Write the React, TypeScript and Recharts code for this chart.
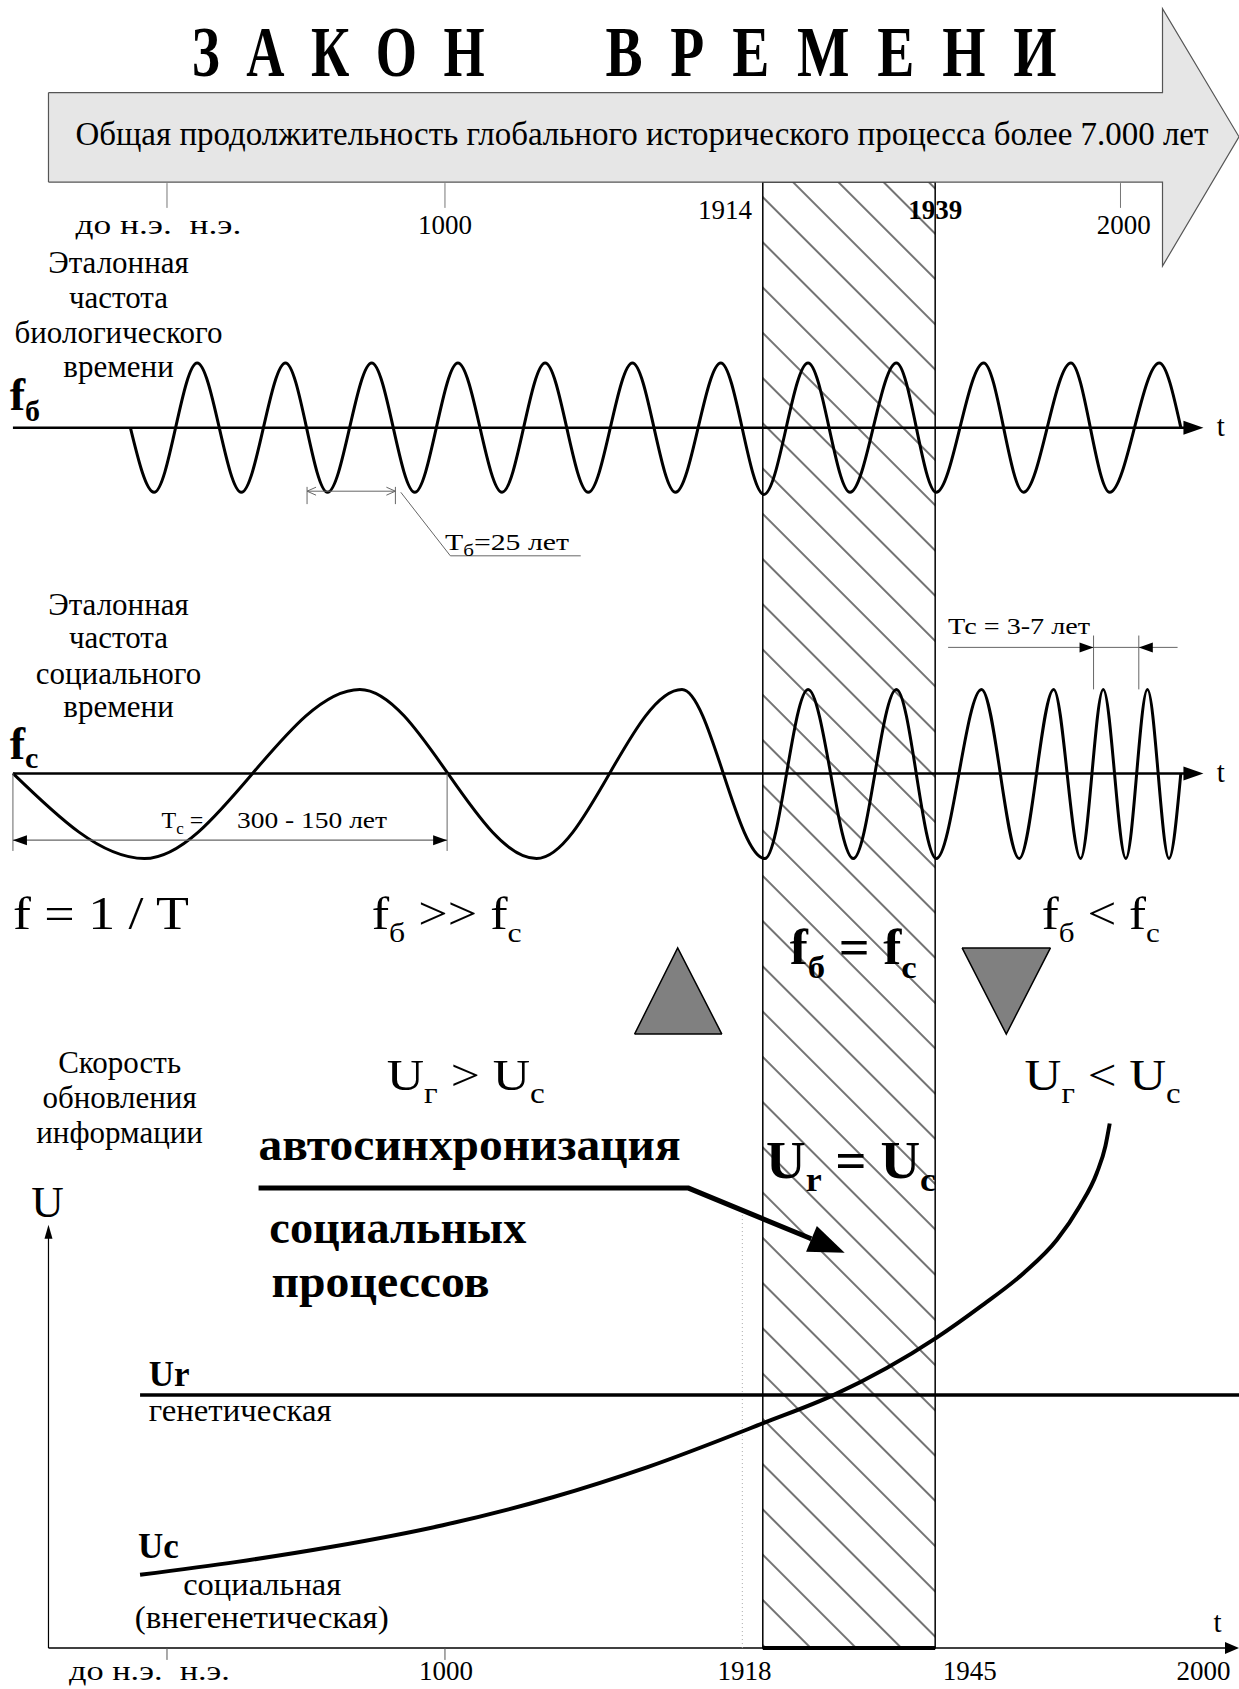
import React from "react";
import {
  ComposedChart, Line, Area, XAxis, YAxis,
  ReferenceLine, ReferenceArea, ReferenceDot,
} from "recharts";

// Schematic sheet: x = position along the time scale, y = position down the sheet (0 at top)
const W = 1239;
const H = 1689;
const X_MAX = 1150;
const Y_MAX = 1568;

const SERIF = '"Liberation Serif", "Times New Roman", serif';

// big "time" arrow as a range area [top, bottom]
const arrowOutline = [
  { x: 45, v: [86, 169] },
  { x: 1079, v: [86, 169] },
  { x: 1079, v: [8, 247] },
  { x: 1150, v: [127, 127] },
];

// reference frequency of biological time (peaks / troughs)
const bioWave = [
  { x: 121, y: 397 }, { x: 143, y: 457 }, { x: 183, y: 337 }, { x: 224, y: 457 },
  { x: 265, y: 337 }, { x: 304, y: 457 }, { x: 345, y: 337 }, { x: 385, y: 457 },
  { x: 425, y: 337 }, { x: 466, y: 457 }, { x: 506, y: 337 }, { x: 546, y: 457 },
  { x: 587, y: 337 }, { x: 627, y: 457 }, { x: 669, y: 337 }, { x: 709, y: 459 },
  { x: 750, y: 337 }, { x: 789, y: 457 }, { x: 832, y: 337 }, { x: 869, y: 457 },
  { x: 913, y: 337 }, { x: 950, y: 457 }, { x: 994, y: 337 }, { x: 1030, y: 457 },
  { x: 1076, y: 337 }, { x: 1096, y: 397 },
];

// reference frequency of social time
const socialWave = [
  { x: 12, y: 718 }, { x: 134, y: 797 }, { x: 334, y: 640 }, { x: 498, y: 797 },
  { x: 633, y: 640 }, { x: 710, y: 797 }, { x: 750, y: 640 }, { x: 792, y: 797 },
  { x: 832, y: 640 }, { x: 869, y: 797 }, { x: 911, y: 640 }, { x: 946, y: 797 },
  { x: 978, y: 640 }, { x: 1003, y: 797 }, { x: 1024, y: 640 }, { x: 1045, y: 797 },
  { x: 1065, y: 640 }, { x: 1085, y: 797 }, { x: 1096, y: 718 },
];

// rate of information renewal
const geneticRate = [{ x: 130, y: 1295 }, { x: 1150, y: 1295 }];
const socialRate = [
  { x: 130, y: 1462 }, { x: 220, y: 1450 }, { x: 308, y: 1436 }, { x: 411, y: 1416 },
  { x: 513, y: 1390 }, { x: 601, y: 1362 }, { x: 709, y: 1321 }, { x: 774, y: 1295 },
  { x: 869, y: 1242 }, { x: 910, y: 1213 }, { x: 950, y: 1182 }, { x: 981, y: 1151 },
  { x: 1002, y: 1120 }, { x: 1018, y: 1089 }, { x: 1026, y: 1064 }, { x: 1030, y: 1043 },
];

const pointer = [{ x: 240, y: 1103 }, { x: 639, y: 1103 }, { x: 753, y: 1150 }];

const upMarker = [{ x: 589, v: [960, 960] }, { x: 629, v: [880, 960] }, { x: 670, v: [960, 960] }];
const downMarker = [{ x: 893, v: [880, 880] }, { x: 934, v: [880, 960] }, { x: 975, v: [880, 880] }];

const topTickX = [155, 413, 1040];
const topYears = [
  { x: 413, label: "1000", y: 217 },
  { x: 673, label: "1914", y: 203 },
  { x: 868, label: "1939", y: 203 },
  { x: 1043, label: "2000", y: 217 },
];
const bottomTickX = [155, 413];
const bottomYears = [
  { x: 414, label: "1000" },
  { x: 691, label: "1918" },
  { x: 900, label: "1945" },
  { x: 1117, label: "2000" },
];

const bioCaption = ["Эталонная", "частота", "биологического", "времени"];
const socialCaption = ["Эталонная", "частота", "социального", "времени"];
const rateCaption = ["Скорость", "обновления", "информации"];

type NoteOpts = {
  size: number;
  anchor?: "start" | "middle" | "end";
  bold?: boolean;
  len?: number;
  adjust?: "spacing" | "spacingAndGlyphs";
};

function note(id: string, x: number, y: number, body: React.ReactNode, o: NoteOpts) {
  return (
    <ReferenceDot
      key={id}
      x={x}
      y={y}
      r={0}
      ifOverflow="visible"
      shape={(p: any) => (
        <text
          x={p.cx}
          y={p.cy}
          fontFamily={SERIF}
          fontSize={o.size}
          fontWeight={o.bold ? 700 : 400}
          textAnchor={o.anchor || "start"}
          fill="#000"
          textLength={o.len}
          lengthAdjust={o.len ? o.adjust || "spacingAndGlyphs" : undefined}
        >
          {body}
        </text>
      )}
    />
  );
}

const sub = (s: string, size: number, d: number) => <tspan dy={d} fontSize={size}>{s}</tspan>;
const back = (s: string, d: number) => <tspan dy={-d}>{s}</tspan>;

// filled arrow head, tip at (x, y), angle 0 = pointing right
function head(id: string, x: number, y: number, angle: number, len = 16, half = 6) {
  return (
    <ReferenceDot
      key={id}
      x={x}
      y={y}
      r={0}
      ifOverflow="visible"
      shape={(p: any) => (
        <path
          d={`M${p.cx},${p.cy} l${-len},${-half} l0,${2 * half} z`}
          transform={`rotate(${angle} ${p.cx} ${p.cy})`}
          fill="#000"
        />
      )}
    />
  );
}

function chevron(id: string, x: number, y: number, angle: number) {
  return (
    <ReferenceDot
      key={id}
      x={x}
      y={y}
      r={0}
      ifOverflow="visible"
      shape={(p: any) => (
        <path
          d={`M${p.cx - 9},${p.cy - 4} L${p.cx},${p.cy} L${p.cx - 9},${p.cy + 4}`}
          transform={`rotate(${angle} ${p.cx} ${p.cy})`}
          fill="none"
          stroke="#666"
          strokeWidth={1}
        />
      )}
    />
  );
}

function seg(id: string, x1: number, y1: number, x2: number, y2: number, stroke = "#000", w = 1, dash?: string) {
  return (
    <ReferenceLine
      key={id}
      segment={[{ x: x1, y: y1 }, { x: x2, y: y2 }]}
      stroke={stroke}
      strokeWidth={w}
      strokeDasharray={dash}
      ifOverflow="visible"
    />
  );
}

export default function App() {
  return (
    <div style={{ position: "absolute", left: 0, top: 0, width: W, height: H, background: "#fff" }}>
      <ComposedChart width={W} height={H} margin={{ top: 0, right: 0, bottom: 0, left: 0 }}>
        <defs>
          <pattern id="hatch" patternUnits="userSpaceOnUse" width={32} height={32} patternTransform="rotate(-45)">
            <line x1={16} y1={-2} x2={16} y2={34} stroke="#000" strokeWidth={1.1} />
          </pattern>
        </defs>
        <XAxis type="number" dataKey="x" domain={[0, X_MAX]} hide allowDataOverflow />
        <YAxis type="number" domain={[0, Y_MAX]} reversed hide allowDataOverflow />

        <ReferenceArea
          x1={708} x2={868} y1={169} y2={1530}
          fill="url(#hatch)" fillOpacity={1} stroke="#000" strokeWidth={1.5} ifOverflow="visible"
        />

        <Area
          data={arrowOutline} dataKey="v" type="linear"
          fill="#e6e6e6" fillOpacity={1} stroke="#555" strokeWidth={1.2}
          dot={false} activeDot={false} isAnimationActive={false}
        />
        {seg("arrowLeft", 45, 86, 45, 169, "#555", 1.2)}

        {/* axes */}
        {seg("bioAxis", 12, 397, 1100, 397, "#000", 2.5)}
        {head("bioAxisHead", 1117, 397, 0, 20, 7)}
        {seg("socAxis", 12, 718, 1100, 718, "#000", 2.5)}
        {head("socAxisHead", 1117, 718, 0, 20, 7)}
        {seg("tAxis", 45, 1530, 1140, 1530, "#000", 1.5)}
        {head("tAxisHead", 1150, 1530, 0, 14, 6)}
        {seg("uAxis", 45, 1530, 45, 1145, "#000", 1.2)}
        {head("uAxisHead", 45, 1137, -90, 14, 4)}
        {seg("bandBottom", 708, 1530, 868, 1530, "#000", 4)}
        {seg("year1918", 689, 1128, 689, 1530, "#aaa", 1, "1 3")}

        {topTickX.map((x) => seg(`tt${x}`, x, 170, x, 193, "#777", 1))}
        {bottomTickX.map((x) => seg(`bt${x}`, x, 1530, x, 1541, "#555", 1))}

        <Line data={bioWave} dataKey="y" type="monotone" stroke="#000" strokeWidth={3} dot={false} activeDot={false} isAnimationActive={false} />
        <Line data={socialWave} dataKey="y" type="monotone" stroke="#000" strokeWidth={3} dot={false} activeDot={false} isAnimationActive={false} />
        <Line data={geneticRate} dataKey="y" type="linear" stroke="#000" strokeWidth={3.5} dot={false} activeDot={false} isAnimationActive={false} />
        <Line data={socialRate} dataKey="y" type="monotone" stroke="#000" strokeWidth={4} dot={false} activeDot={false} isAnimationActive={false} />
        <Line data={pointer} dataKey="y" type="linear" stroke="#000" strokeWidth={5} dot={false} activeDot={false} isAnimationActive={false} />
        {head("pointerHead", 784, 1163, 22.7, 36, 14)}

        <Area data={upMarker} dataKey="v" type="linear" fill="#808080" fillOpacity={1} stroke="#000" strokeWidth={1.5} dot={false} activeDot={false} isAnimationActive={false} />
        <Area data={downMarker} dataKey="v" type="linear" fill="#808080" fillOpacity={1} stroke="#000" strokeWidth={1.5} dot={false} activeDot={false} isAnimationActive={false} />

        {/* T_b dimension */}
        {seg("tbLine", 285, 456, 367, 456, "#666", 1)}
        {seg("tbExtL", 285, 452, 285, 468, "#666", 1)}
        {seg("tbExtR", 367, 452, 367, 468, "#666", 1)}
        {chevron("tbL", 285, 456, 180)}
        {chevron("tbR", 367, 456, 0)}
        {seg("tbLead1", 372, 457, 418, 516, "#666", 1)}
        {seg("tbLead2", 418, 516, 539, 516, "#666", 1)}

        {/* T_c dimension */}
        {seg("tcLine", 12, 780, 415, 780, "#666", 1.3)}
        {seg("tcExtL", 12, 718, 12, 790, "#666", 1)}
        {seg("tcExtR", 415, 718, 415, 790, "#666", 1)}
        {head("tcL", 12, 780, 180, 14, 5)}
        {head("tcR", 415, 780, 0, 14, 5)}

        {/* Tc = 3-7 dimension */}
        {seg("tc2Line", 880, 601, 1093, 601, "#666", 1)}
        {seg("tc2ExtL", 1015, 590, 1015, 640, "#666", 1)}
        {seg("tc2ExtR", 1057, 590, 1057, 640, "#666", 1)}
        {head("tc2L", 1015, 601, 0, 14, 5)}
        {head("tc2R", 1057, 601, 180, 14, 5)}

        {/* title and arrow text */}
        {note("title1", 178, 71, "З\u2002А\u2002К\u2002О\u2002Н", { size: 72, bold: true, len: 293 })}
        {note("title2", 562, 71, "В\u2002Р\u2002Е\u2002М\u2002Е\u2002Н\u2002И", { size: 72, bold: true, len: 451 })}
        {note("arrowText", 70, 135, "Общая продолжительность глобального исторического процесса более 7.000 лет", { size: 33, len: 1133 })}

        {note("topEra", 70, 217, "до н.э.\u00a0\u00a0н.э.", { size: 27, len: 166 })}
        {topYears.map((t) => note(`ty${t.label}`, t.x, t.y, t.label, { size: 27, anchor: "middle", bold: t.label === "1939" }))}

        {bioCaption.map((s, i) => note(`bc${i}`, 110, [253, 286, 318, 350][i], s, { size: 31, anchor: "middle" }))}
        {socialCaption.map((s, i) => note(`sc${i}`, 110, [571, 602, 635, 666][i], s, { size: 31, anchor: "middle" }))}
        {rateCaption.map((s, i) => note(`rc${i}`, 111, [996, 1029, 1061][i], s, { size: 31, anchor: "middle" }))}

        {note("fb", 9, 381, <>f{sub("б", 30, 11)}</>, { size: 46, bold: true })}
        {note("fc", 9, 705, <>f{sub("c", 30, 9)}</>, { size: 46, bold: true })}
        {note("tBio", 1133, 405, "t", { size: 29, anchor: "middle" })}
        {note("tSoc", 1133, 726, "t", { size: 29, anchor: "middle" })}
        {note("tRate", 1130, 1515, "t", { size: 29, anchor: "middle" })}

        {note("tbText", 413, 511, <>Т{sub("б", 17, 6)}{back("=25 лет", 6)}</>, { size: 24, len: 124 })}
        {note("tcText", 150, 769, <>Т{sub("c", 17, 6)}{back(" =", 6)}</>, { size: 24 })}
        {note("tcRange", 220, 769, "300 - 150 лет", { size: 24, len: 150 })}
        {note("tc2Text", 880, 589, "Тс = 3-7 лет", { size: 24, len: 142 })}

        {note("fDef", 12, 862, "f = 1 / T", { size: 46, len: 176 })}
        {note("fGt", 345, 862, <>f{sub("б", 28, 13)}{back(" >> f", 13)}{sub("c", 28, 13)}</>, { size: 46, len: 150 })}
        {note("fEq", 733, 895, <>f{sub("б", 32, 14)}{back(" = f", 14)}{sub("c", 32, 14)}</>, { size: 50, bold: true, len: 127 })}
        {note("fLt", 967, 862, <>f{sub("б", 28, 13)}{back(" < f", 13)}{sub("c", 28, 13)}</>, { size: 46, len: 118 })}

        {note("uGt", 359, 1012, <>U{sub("г", 29, 13)}{back(" > U", 13)}{sub("c", 29, 13)}</>, { size: 45, len: 158 })}
        {note("uLt", 951, 1012, <>U{sub("г", 29, 13)}{back(" < U", 13)}{sub("c", 29, 13)}</>, { size: 45, len: 156 })}
        {note("uEq", 711, 1094, <>U{sub("r", 34, 13)}{back(" = U", 13)}{sub("c", 34, 13)}</>, { size: 52, bold: true, len: 170 })}

        {note("auto1", 240, 1077, "автосинхронизация", { size: 46, bold: true, len: 422 })}
        {note("auto2", 250, 1154, "социальных", { size: 46, bold: true, len: 257 })}
        {note("auto3", 252, 1204, "процессов", { size: 46, bold: true, len: 218 })}

        {note("uLabel", 29, 1130, "U", { size: 45 })}
        {note("urLabel", 138, 1287, "Ur", { size: 35, bold: true })}
        {note("urText", 138, 1319, "генетическая", { size: 31, len: 183 })}
        {note("ucLabel", 128, 1446, "Uc", { size: 35, bold: true })}
        {note("ucText1", 170, 1481, "социальная", { size: 31, len: 158 })}
        {note("ucText2", 125, 1511, "(внегенетическая)", { size: 31, len: 254 })}

        {note("botEra", 64, 1560, "до н.э.\u00a0\u00a0н.э.", { size: 27, len: 161 })}
        {bottomYears.map((t) => note(`by${t.label}`, t.x, 1560, t.label, { size: 27, anchor: "middle" }))}
      </ComposedChart>
    </div>
  );
}
